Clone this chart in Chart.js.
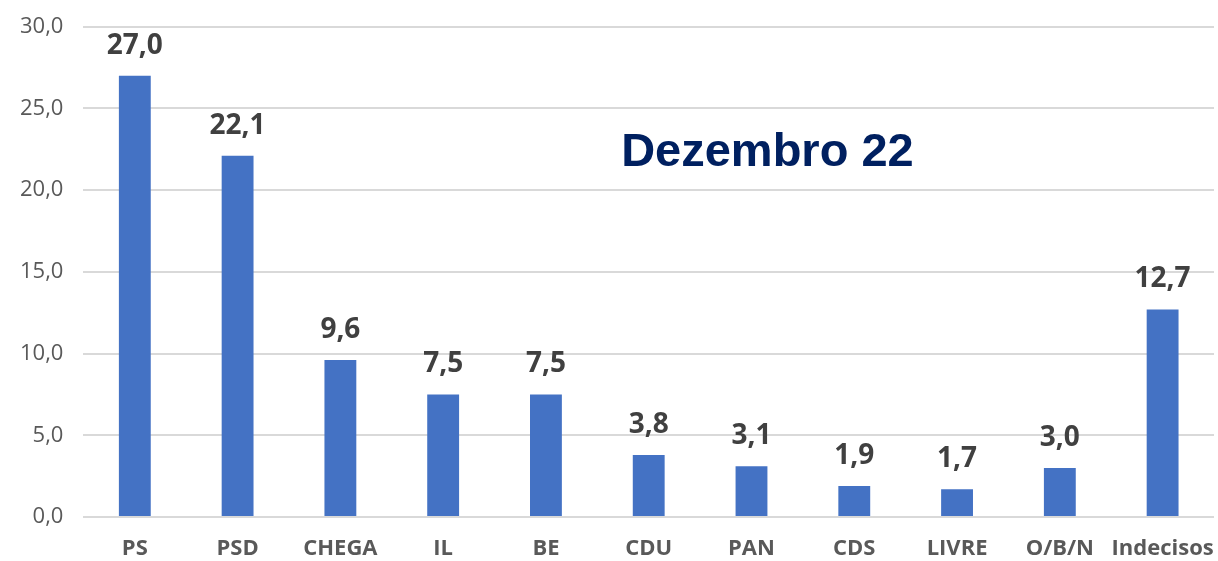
<!DOCTYPE html>
<html>
<head>
<meta charset="utf-8">
<script src="https://cdn.jsdelivr.net/npm/chart.js@4/dist/chart.umd.min.js"></script>
<style>
  html, body { margin: 0; padding: 0; background: #fff; }
  #wrap { width: 1218px; height: 561px; position: relative; }
</style>
</head>
<body>
<div id="wrap"><canvas id="pollChart"></canvas></div>
<script>
// Sondagem - Dezembro 22
const categories = ['PS', 'PSD', 'CHEGA', 'IL', 'BE', 'CDU', 'PAN', 'CDS', 'LIVRE', 'O/B/N', 'Indecisos'];
const values = [27.0, 22.1, 9.6, 7.5, 7.5, 3.8, 3.1, 1.9, 1.7, 3.0, 12.7];
const chartTitle = 'Dezembro 22';

const fmt = v => v.toFixed(1).replace('.', ',');

// value labels above bars + the title inside the plot
const labelsPlugin = {
    id: 'barLabels',
    afterDatasetsDraw(chart) {
        const ctx = chart.ctx;
        const meta = chart.getDatasetMeta(0);
        ctx.save();
        ctx.fillStyle = '#404040';
        ctx.font = 'bold 28px "Open Sans", "DejaVu Sans", sans-serif';
        ctx.textAlign = 'center';
        ctx.textBaseline = 'bottom';
        meta.data.forEach((bar, i) => {
            ctx.fillText(fmt(values[i]), bar.x, bar.y - 16);
        });

        const area = chart.chartArea;
        ctx.fillStyle = '#002060';
        ctx.font = 'bold 47px "Liberation Sans", Arial, sans-serif';
        ctx.textBaseline = 'middle';
        ctx.fillText(chartTitle, area.left + (area.right - area.left) * 0.605, chart.scales.y.getPixelForValue(22.25));
        ctx.restore();
    }
};

new Chart(document.getElementById('pollChart'), {
    type: 'bar',
    data: {
        labels: categories,
        datasets: [{
            data: values,
            backgroundColor: '#4472C4',
            borderWidth: 0,
            categoryPercentage: 1.0,
            barPercentage: 0.31
        }]
    },
    options: {
        responsive: true,
        maintainAspectRatio: false,
        animation: false,
        layout: { padding: { top: 6, right: 4, bottom: 0, left: 0 } },
        plugins: {
            legend: { display: false },
            tooltip: { enabled: false }
        },
        scales: {
            x: {
                grid: { display: false },
                border: { display: false },
                afterFit: scale => {
                    scale.height = 44;
                    scale.paddingLeft = 0;
                    scale.paddingRight = 0;
                },
                ticks: {
                    color: '#595959',
                    font: { family: '"Open Sans", "DejaVu Sans", sans-serif', size: 22, weight: 'bold' },
                    padding: 11,
                    maxRotation: 0,
                    autoSkip: false
                }
            },
            y: {
                min: 0,
                max: 30,
                grid: { color: '#d9d9d9', lineWidth: 2, drawTicks: false },
                border: { display: false },
                ticks: {
                    stepSize: 5,
                    color: '#595959',
                    font: { family: '"Open Sans", "DejaVu Sans", sans-serif', size: 22, lineHeight: 0.6 },
                    padding: 20,
                    callback: v => fmt(v)
                }
            }
        }
    },
    plugins: [labelsPlugin]
});
</script>
</body>
</html>
